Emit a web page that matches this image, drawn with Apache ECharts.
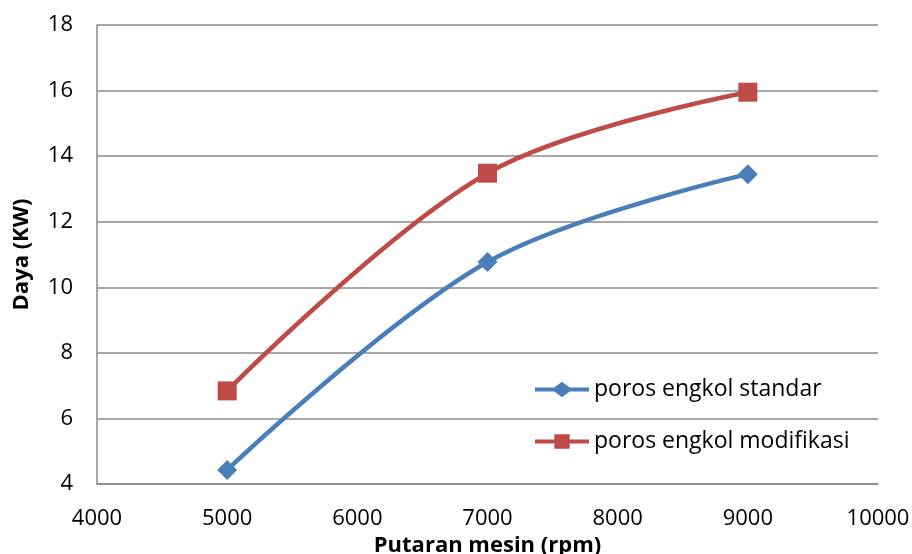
<!DOCTYPE html>
<html>
<head>
<meta charset="utf-8">
<script src="https://cdn.jsdelivr.net/npm/echarts@6/dist/echarts.min.js"></script>
<style>
  html, body { margin: 0; padding: 0; background: #fff; }
  #chart { width: 912px; height: 554px; }
</style>
</head>
<body>
<div id="chart"></div>
<script>
// Engine speed (rpm) and power (kW) for both crankshafts
const rpm = [5000, 7000, 9000];
const dayaStandar = [4.43, 10.77, 13.45];
const dayaModifikasi = [6.84, 13.48, 15.95];
const seriesNames = ['poros engkol standar', 'poros engkol modifikasi'];

const FONT = '"Open Sans", "Liberation Sans", sans-serif';
const BLUE = '#4a7ebb';
const RED = '#be4b48';

// Legend keys: a line segment with the series marker in the middle
const ICON_DIAMOND = 'path://M0,5.8 H20 L28,0 L36,5.8 H56 V10.2 H36 L28,16 L20,10.2 H0 Z';
const ICON_SQUARE = 'path://M0,5.8 H20 V0.5 H36 V5.8 H56 V10.2 H36 V15.5 H20 V10.2 H0 Z';

const chart = echarts.init(document.getElementById('chart'));

function pairs(xs, ys) {
  return xs.map((x, i) => [x, ys[i]]);
}

chart.setOption({
  animation: false,
  backgroundColor: '#fff',
  grid: { left: 97, right: 34, top: 25, bottom: 70, outerBoundsMode: 'none', containLabel: false },
  legend: {
    orient: 'vertical',
    left: 530,
    top: 373,
    itemGap: 29,
    itemWidth: 54,
    itemHeight: 18,
    textStyle: { fontFamily: FONT, fontSize: 23, color: '#000' },
    data: [
      { name: seriesNames[0], icon: ICON_DIAMOND },
      { name: seriesNames[1], icon: ICON_SQUARE }
    ]
  },
  xAxis: {
    type: 'value',
    min: 4000,
    max: 10000,
    interval: 1000,
    name: 'Putaran mesin (rpm)',
    nameLocation: 'middle',
    nameGap: 49,
    nameTextStyle: { fontFamily: FONT, fontSize: 22, fontWeight: 'bold', color: '#000' },
    axisLine: { show: true, lineStyle: { color: '#8a8a8a', width: 1.5 } },
    axisTick: { show: false },
    splitLine: { show: false },
    axisLabel: {
      fontFamily: FONT, fontSize: 22, color: '#000', margin: 24,
      formatter: (v) => String(v)
    }
  },
  yAxis: {
    type: 'value',
    min: 4,
    max: 18,
    interval: 2,
    name: 'Daya (KW)',
    nameLocation: 'middle',
    nameGap: 64,
    nameTextStyle: { fontFamily: FONT, fontSize: 22, fontWeight: 'bold', color: '#000' },
    axisLine: { show: true, lineStyle: { color: '#8a8a8a', width: 1.5 } },
    axisTick: { show: false },
    splitLine: { show: true, lineStyle: { color: '#8a8a8a', width: 1.5 } },
    axisLabel: { fontFamily: FONT, fontSize: 22, color: '#000', margin: 24 }
  },
  series: [
    {
      name: seriesNames[0],
      type: 'line',
      smooth: 0.35,
      data: pairs(rpm, dayaStandar),
      symbol: 'diamond',
      symbolSize: 20,
      lineStyle: { color: BLUE, width: 4.5 },
      itemStyle: { color: BLUE },
      z: 3
    },
    {
      name: seriesNames[1],
      type: 'line',
      smooth: 0.35,
      data: pairs(rpm, dayaModifikasi),
      symbol: 'rect',
      symbolSize: 19,
      lineStyle: { color: RED, width: 4.5 },
      itemStyle: { color: RED },
      z: 3
    }
  ]
});
</script>
</body>
</html>
